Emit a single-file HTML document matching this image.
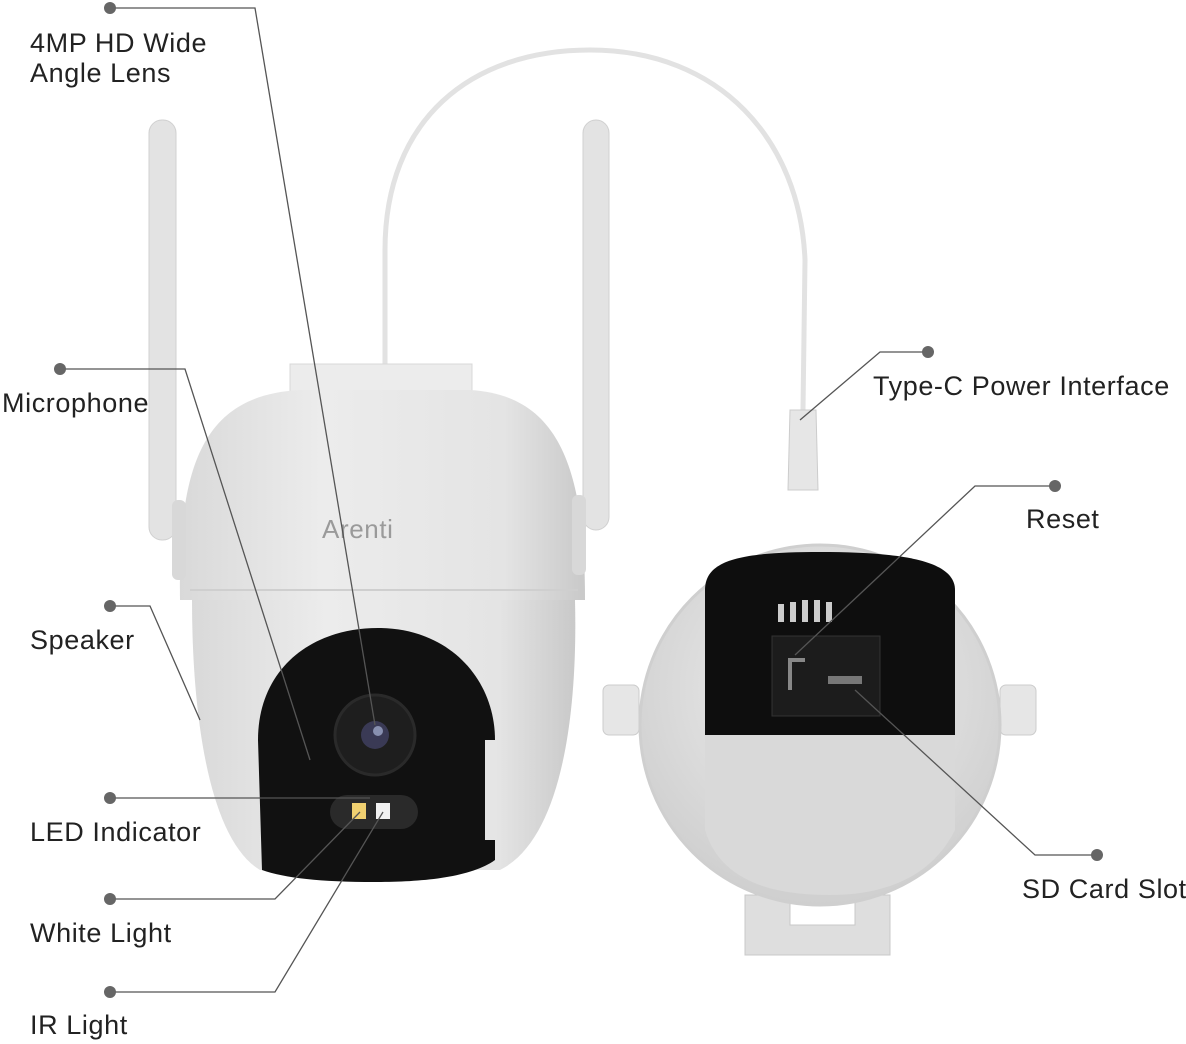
<!DOCTYPE html>
<html><head><meta charset="utf-8"><style>
html,body{margin:0;padding:0;background:#fff;}
svg{display:block}
text{font-family:"Liberation Sans",sans-serif;font-size:27px;letter-spacing:0.6px;fill:#222;}
</style></head><body>
<svg width="1186" height="1044" viewBox="0 0 1186 1044" xmlns="http://www.w3.org/2000/svg">
<defs>
<linearGradient id="body" x1="0" x2="1" y1="0" y2="0">
<stop offset="0" stop-color="#d9d9d9"/><stop offset="0.35" stop-color="#ececec"/><stop offset="0.8" stop-color="#e4e4e4"/><stop offset="1" stop-color="#c9c9c9"/></linearGradient>
<radialGradient id="ball" cx="0.5" cy="0.4" r="0.6"><stop offset="0" stop-color="#f0f0f0"/><stop offset="1" stop-color="#cfcfcf"/></radialGradient>
</defs>
<path d="M385 370 L385 250 C385 120 470 50 590 50 C720 50 800 140 805 260 L803 410" fill="none" stroke="#e2e2e2" stroke-width="5"/>
<path d="M790 410 L816 410 L818 490 L788 490 Z" fill="#e6e6e6" stroke="#ccc"/>
<rect x="149" y="120" width="27" height="420" rx="13" fill="#e3e3e3" stroke="#d0d0d0"/>
<rect x="583" y="120" width="26" height="410" rx="13" fill="#e3e3e3" stroke="#d0d0d0"/>
<rect x="290" y="364" width="182" height="30" fill="#ececec" stroke="#d8d8d8"/>
<path d="M180 600 C178 470 200 395 300 390 L470 390 C560 395 585 470 585 600 Z" fill="url(#body)"/>
<path d="M192 600 L575 600 C578 720 560 840 500 870 L260 870 C210 840 192 720 192 600 Z" fill="url(#body)"/>
<line x1="190" y1="590" x2="578" y2="590" stroke="#cfcfcf" stroke-width="2"/>
<rect x="172" y="500" width="14" height="80" rx="6" fill="#d8d8d8"/>
<rect x="572" y="495" width="14" height="80" rx="6" fill="#d8d8d8"/>
<text x="322" y="538" style="font-size:26px;fill:#9a9a9a">Arenti</text>
<path d="M262 870 L258 740 C258 670 310 628 378 628 C450 628 495 680 495 740 L495 860 C470 878 420 882 375 882 C320 882 285 878 262 870 Z" fill="#111"/>
<circle cx="375" cy="735" r="40" fill="#1e1e1e" stroke="#2a2a2a" stroke-width="3"/>
<circle cx="375" cy="735" r="14" fill="#3a3a55"/>
<circle cx="378" cy="731" r="5" fill="#8890b0"/>
<rect x="330" y="795" width="88" height="34" rx="17" fill="#2a2a2a"/>
<rect x="352" y="803" width="14" height="16" fill="#f0d070"/>
<rect x="376" y="803" width="14" height="16" fill="#f2f2f2"/>
<rect x="485" y="740" width="12" height="100" fill="#e5e5e5"/>
<rect x="603" y="685" width="36" height="50" rx="6" fill="#e6e6e6" stroke="#ccc"/>
<rect x="1000" y="685" width="36" height="50" rx="6" fill="#e6e6e6" stroke="#ccc"/>
<path d="M745 895 L745 955 L890 955 L890 895 L855 895 L855 925 L790 925 L790 895 Z" fill="#dedede" stroke="#c8c8c8"/>
<circle cx="820" cy="725" r="180" fill="url(#ball)" stroke="#cfcfcf" stroke-width="3"/>
<path d="M705 590 C705 560 740 552 820 552 C900 552 955 560 955 590 L955 735 L705 735 Z" fill="#0e0e0e"/>
<path d="M705 735 L955 735 L955 830 C930 880 880 895 830 895 C770 895 720 880 705 830 Z" fill="#d9d9d9"/>
<rect x="772" y="636" width="108" height="80" fill="#1c1c1c" stroke="#333"/>
<path d="M790 690 L790 660 L805 660" fill="none" stroke="#888" stroke-width="4"/>
<rect x="828" y="676" width="34" height="8" fill="#777"/>
<g fill="#ccc"><rect x="778" y="604" width="6" height="18"/><rect x="790" y="602" width="6" height="20"/><rect x="802" y="600" width="6" height="22"/><rect x="814" y="600" width="6" height="22"/><rect x="826" y="602" width="6" height="20"/></g>
<g fill="none" stroke="#555" stroke-width="1.3">
<path d="M110 8 L255 8 L375 725"/>
<path d="M60 369 L185 369 L310 760"/>
<path d="M110 606 L150 606 L200 720"/>
<path d="M110 798 L370 798"/>
<path d="M110 899 L275 899 L360 812"/>
<path d="M110 992 L275 992 L383 812"/>
<path d="M928 352 L880 352 L800 420"/>
<path d="M1055 486 L975 486 L795 655"/>
<path d="M1097 855 L1035 855 L855 690"/>
</g>
<g fill="#666">
<circle cx="110" cy="8" r="6"/><circle cx="60" cy="369" r="6"/><circle cx="110" cy="606" r="6"/>
<circle cx="110" cy="798" r="6"/><circle cx="110" cy="899" r="6"/><circle cx="110" cy="992" r="6"/>
<circle cx="928" cy="352" r="6"/><circle cx="1055" cy="486" r="6"/><circle cx="1097" cy="855" r="6"/>
</g>
<text x="30" y="52">4MP HD Wide</text>
<text x="30" y="82">Angle Lens</text>
<text x="2" y="412">Microphone</text>
<text x="30" y="649">Speaker</text>
<text x="30" y="841">LED Indicator</text>
<text x="30" y="942">White Light</text>
<text x="30" y="1034">IR Light</text>
<text x="873" y="395">Type-C Power Interface</text>
<text x="1026" y="528">Reset</text>
<text x="1022" y="898">SD Card Slot</text>
</svg>
</body></html>
